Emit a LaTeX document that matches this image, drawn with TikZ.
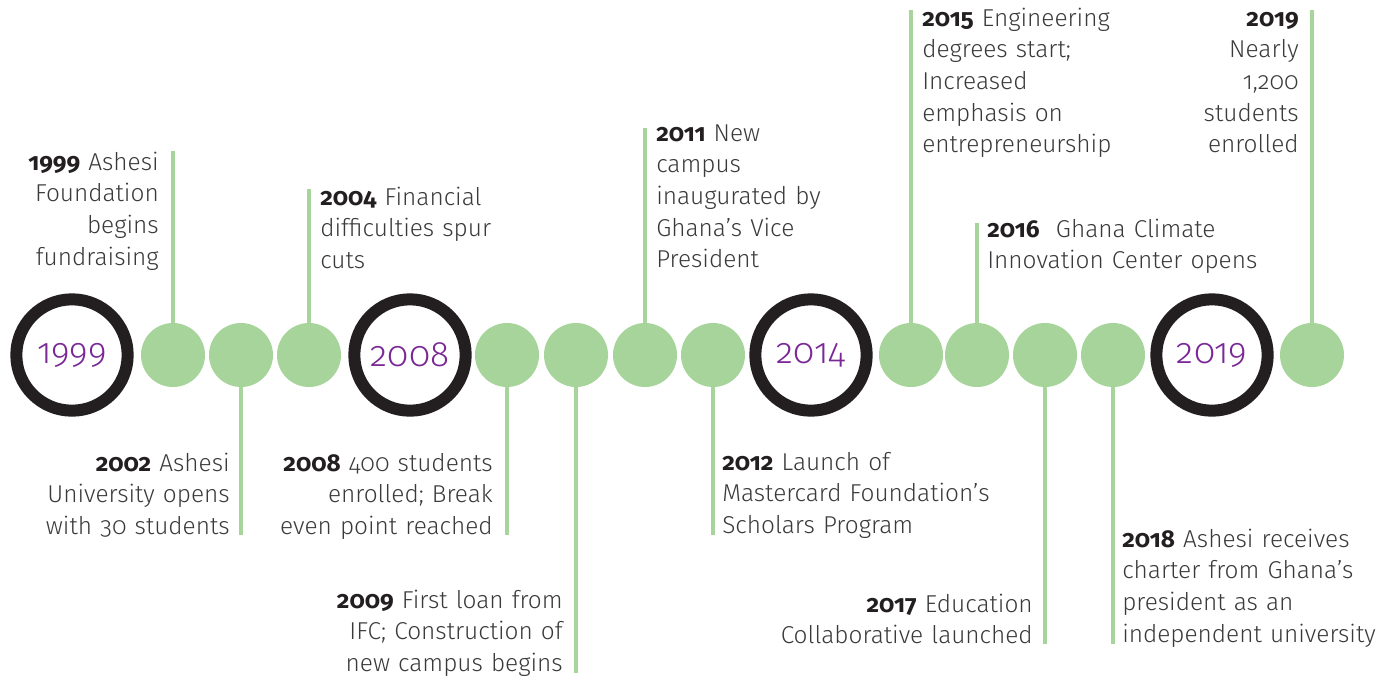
\documentclass[tikz,border=0pt]{standalone}
\usepackage{fontspec}
\setmainfont{Fira Sans Light}[BoldFont={Fira Sans Bold}, Numbers=OldStyle]
\usepackage{tikz}
\usetikzlibrary{positioning}
\definecolor{ringBlack}{RGB}{35, 31, 32}
\definecolor{dotGreen}{RGB}{166, 212, 154}
\definecolor{yearPurple}{RGB}{122, 40, 150}
\definecolor{noteGray}{RGB}{58, 58, 58}
\newcommand{\evyear}[1]{{\bfseries\color{ringBlack}#1}}

\begin{document}
\begin{tikzpicture}[
            x=0.75pt, y=-0.75pt,
            % Styles
            ring/.style={
                circle, draw=ringBlack, line width=9pt, minimum size=83.5pt, inner sep=0pt,
                text=yearPurple, font=\fontsize{26.5}{30}\selectfont
            },
            dot/.style={
                circle, fill=dotGreen, minimum size=48pt, inner sep=0pt
            },
            stem/.style={
                draw=dotGreen, line width=2.4pt
            },
            noteL/.style={
                anchor=base west, text width=230pt, align=left, inner sep=0pt,
                text=noteGray, font=\fontsize{18.3}{23.8}\selectfont
            },
            noteR/.style={
                anchor=base east, text width=230pt, align=right, inner sep=0pt,
                text=noteGray, font=\fontsize{18.3}{23.8}\selectfont
            }
        ]
            \useasboundingbox (0,0) rectangle (1392,679);

            % --- Milestone rings ---
            \node[ring] (r1999) at (72,355) {1999};
            \node[ring] (r2008) at (410,355) {2008};
            \node[ring] (r2014) at (811,355) {2014};
            \node[ring] (r2019) at (1212,355) {2019};

            % --- Event dots ---
            \node[dot] (d1999) at (173,355) {};
            \node[dot] (d2002) at (241,355) {};
            \node[dot] (d2004) at (309,355) {};
            \node[dot] (d2008) at (507,355) {};
            \node[dot] (d2009) at (576,355) {};
            \node[dot] (d2011) at (645,355) {};
            \node[dot] (d2012) at (713,355) {};
            \node[dot] (d2015) at (911,355) {};
            \node[dot] (d2016) at (977,355) {};
            \node[dot] (d2017) at (1045,355) {};
            \node[dot] (d2018) at (1113,355) {};
            \node[dot] (d2019) at (1312,355) {};

            % --- Stem ends ---
            \coordinate (s1999) at (173,151);
            \coordinate (s2002) at (241,535);
            \coordinate (s2004) at (309,189);
            \coordinate (s2008) at (507,535);
            \coordinate (s2009) at (576,673);
            \coordinate (s2011) at (645,128);
            \coordinate (s2012) at (713,535);
            \coordinate (s2015) at (911,10);
            \coordinate (s2016) at (977,223);
            \coordinate (s2017) at (1045,644);
            \coordinate (s2018) at (1113,644);
            \coordinate (s2019) at (1312,10);

            % --- Stems ---
            \draw[stem] (d1999.north) -- (s1999);
            \draw[stem] (d2002.south) -- (s2002);
            \draw[stem] (d2004.north) -- (s2004);
            \draw[stem] (d2008.south) -- (s2008);
            \draw[stem] (d2009.south) -- (s2009);
            \draw[stem] (d2011.north) -- (s2011);
            \draw[stem] (d2012.south) -- (s2012);
            \draw[stem] (d2015.north) -- (s2015);
            \draw[stem] (d2016.north) -- (s2016);
            \draw[stem] (d2017.south) -- (s2017);
            \draw[stem] (d2018.south) -- (s2018);
            \draw[stem] (d2019.north) -- (s2019);

            % --- Event texts ---
            \node[noteR] (t1999) at (159,170) {\evyear{1999} Ashesi\\Foundation\\begins\\fundraising};
            \node[noteR] (t2002) at (230,471) {\evyear{2002} Ashesi\\University opens\\with 30 students};
            \node[noteL] (t2004) at (320,205) {\evyear{2004} Financial\\difficulties spur\\cuts};
            \node[noteR] (t2008) at (493,471) {\evyear{2008} 400 students\\enrolled; Break\\even point reached};
            \node[noteR] (t2009) at (563,608) {\evyear{2009} First loan from\\IFC; Construction of\\new campus begins};
            \node[noteL] (t2011) at (656,141) {\evyear{2011} New\\campus\\inaugurated by\\Ghana’s Vice\\President};
            \node[noteL] (t2012) at (722,470) {\evyear{2012} Launch of\\Mastercard Foundation’s\\Scholars Program};
            \node[noteL] (t2015) at (922,26) {\evyear{2015} Engineering\\degrees start;\\Increased\\emphasis on\\entrepreneurship};
            \node[noteL] (t2016) at (987,237) {\evyear{2016}\ \ Ghana Climate\\Innovation Center opens};
            \node[noteR] (t2017) at (1033,612) {\evyear{2017} Education\\Collaborative launched};
            \node[noteL] (t2018) at (1122,547) {\evyear{2018} Ashesi receives\\charter from Ghana’s\\president as an\\independent university};
            \node[noteR] (t2019) at (1299,26) {\evyear{2019}\\Nearly\\1,200\\students\\enrolled};

        \end{tikzpicture}
\end{document}
